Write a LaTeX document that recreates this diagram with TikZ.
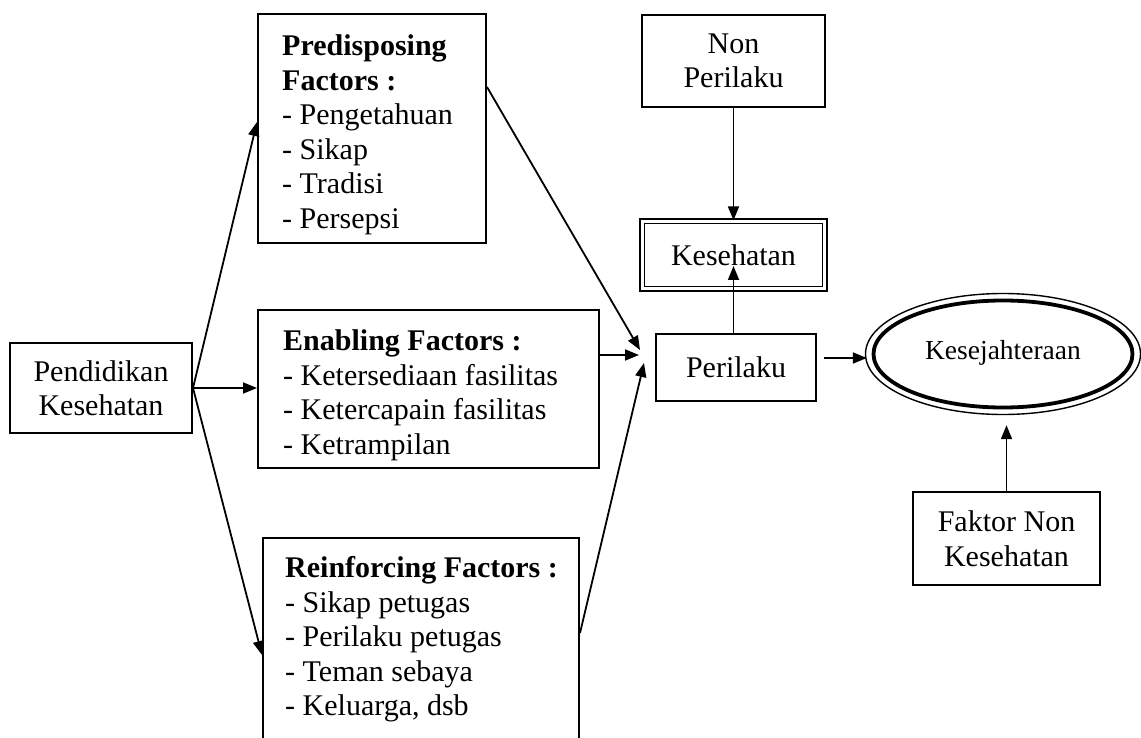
\documentclass[tikz,border=0pt]{standalone}
\usepackage{fontspec}
\setmainfont{Liberation Serif}
\usetikzlibrary{arrows.meta,calc,shapes.geometric}

\tikzset{
  box/.style={draw, line width=2pt, inner sep=0pt, align=center,
              font=\fontsize{30}{34.5}\selectfont},
  listtext/.style={inner sep=0pt, anchor=north west, align=left,
              font=\fontsize{30}{34.5}\selectfont},
  arr/.style={line width=1.8pt, -{Triangle[length=14pt,width=11pt]}},
}

\begin{document}
\begin{tikzpicture}[x=1pt,y=-1pt]
\useasboundingbox (0,0) rectangle (1141,738);

% left source box
\node[box, minimum width=182, minimum height=90] (pend) at (101,388)
  {Pendidikan\\Kesehatan};

% the three factor boxes
\node[box, minimum width=228, minimum height=229] (pred) at (372,128.5) {};
\node[listtext] at (282,34.5)
  {\textbf{Predisposing}\\\textbf{Factors :}\\- Pengetahuan\\- Sikap\\- Tradisi\\- Persepsi};

\node[box, minimum width=341, minimum height=158] (enab) at (428.5,389) {};
\node[listtext] at (283,329.5)
  {\textbf{Enabling Factors :}\\- Ketersediaan fasilitas\\- Ketercapain fasilitas\\- Ketrampilan};

\node[box, minimum width=316, minimum height=215, anchor=north west] (rein) at (262,537) {};
\node[listtext] at (285,556.5)
  {\textbf{Reinforcing Factors :}\\- Sikap petugas\\- Perilaku petugas\\- Teman sebaya\\- Keluarga, dsb};

% behaviour and health column
\node[box, minimum width=183, minimum height=92] (nonp) at (733.5,61) {Non\\Perilaku};
\node[box, double, line width=1.6pt, double distance=3pt,
      minimum width=182.7, minimum height=67.7] (kesh) at (733.5,255) {Kesehatan};
\node[box, minimum width=160, minimum height=67] (peri) at (736,367.5) {Perilaku};

% welfare and its other factor
\node[ellipse, draw, line width=1.4pt, inner sep=0pt,
      minimum width=275, minimum height=121,
      font=\fontsize{27.5}{30}\selectfont] (kesej) at (1003,354)
  {\raisebox{9pt}{Kesejahteraan}};
\draw[line width=3.8pt] (kesej.center) ellipse [x radius=129.5, y radius=53.5];

\node[box, minimum width=187, minimum height=93] (fakt) at (1006.5,538.5)
  {Faktor Non\\Kesehatan};

% connectors
\coordinate (tipE) at ($(peri.west)+(-16,-12.5)$);
\draw[arr] (pend.east) -- ($(pred.west)+(0,-6.5)$);
\draw[arr] (pend.east) -- (pend.east -| enab.west);
\draw[arr] (pend.east) -- ($(rein.north west)+(0,118)$);

\draw[arr] ($(pred.north east)+(0,74)$) -- ($(peri.west)+(-15,-17.5)$);
\draw[arr] (tipE -| enab.east) -- (tipE);
\draw[arr] ($(rein.north east)+(0,96)$) -- ($(peri.west)+(-11,-4.5)$);

\draw[arr] (nonp.south) -- (kesh.north);
\draw[arr] (kesh.center |- peri.north) -- ($(kesh.center)+(0,11)$);

\draw[arr] ($(peri.east)+(7,-9.5)$) -- ($(kesej.west)+(2,4)$);
\draw[arr, shorten >=10pt] (fakt.north) -- (fakt.north |- kesej.south);

\end{tikzpicture}
\end{document}
